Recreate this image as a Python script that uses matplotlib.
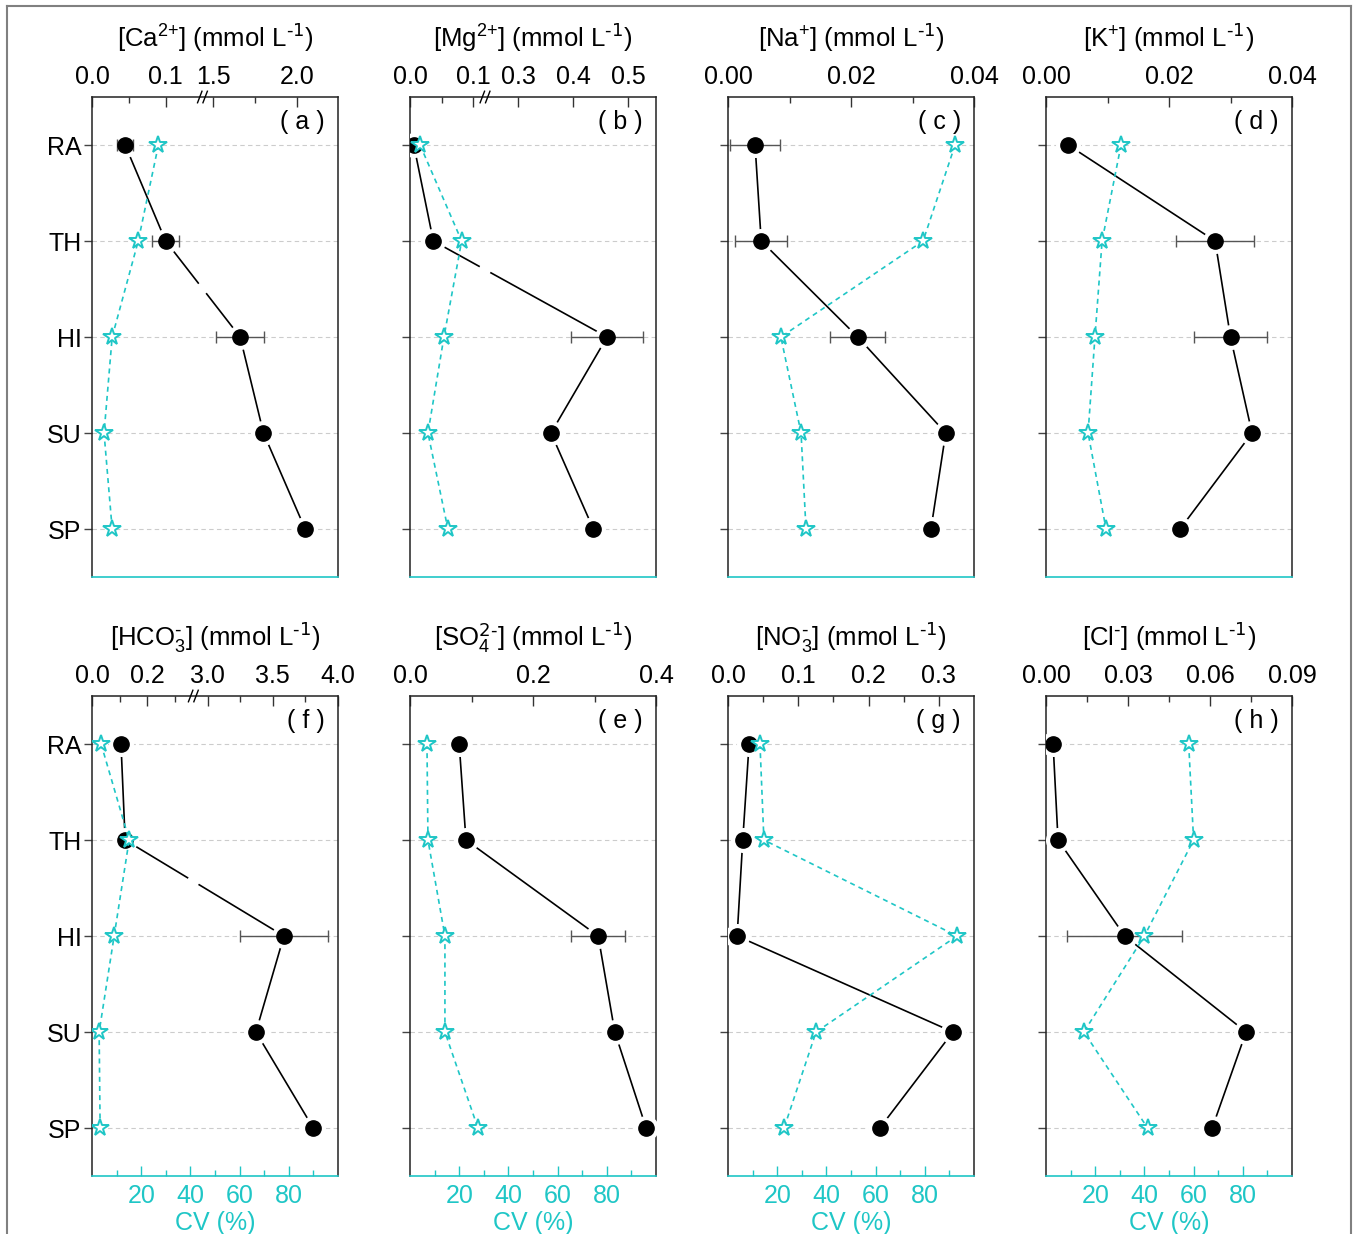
import numpy as np
import matplotlib
matplotlib.use('Agg')
import matplotlib.pyplot as plt
from matplotlib.lines import Line2D
from matplotlib.ticker import FixedLocator, FixedFormatter

plt.rcParams['font.family'] = ['Liberation Sans', 'DejaVu Sans']
plt.rcParams['mathtext.default'] = 'regular'

CYAN = '#1fc6c6'
SITES = ['RA', 'TH', 'HI', 'SU', 'SP']

# Mean concentrations (mmol/L), standard errors and coefficients of variation (%)
ca = [0.045, 0.10, 1.66, 1.80, 2.05]
ca_err = [0.011, 0.018, 0.145, 0.0, 0.0]
ca_cv = [27.0, 18.8, 8.2, 4.9, 8.2]

mg = [0.006, 0.037, 0.462, 0.36, 0.437]
mg_err = [0.0, 0.0, 0.065, 0.0, 0.0]
mg_cv = [4.1, 21.0, 13.8, 7.3, 15.4]

na = [0.0044, 0.0054, 0.0211, 0.0354, 0.033]
na_err = [0.004, 0.0042, 0.0045, 0.0, 0.0]
na_cv = [92.3, 79.3, 21.5, 29.7, 31.7]

k = [0.0036, 0.0275, 0.030, 0.0335, 0.0218]
k_err = [0.0, 0.0063, 0.0059, 0.0, 0.0]
k_cv = [30.5, 22.8, 19.9, 17.1, 24.4]

hco3 = [0.105, 0.12, 3.585, 3.37, 3.81]
hco3_err = [0.0, 0.0, 0.34, 0.0, 0.0]
hco3_cv = [3.7, 15.1, 9.0, 2.9, 3.3]

so4 = [0.08, 0.091, 0.306, 0.333, 0.384]
so4_err = [0.0, 0.0, 0.044, 0.0, 0.0]
so4_cv = [6.9, 7.3, 14.2, 14.2, 27.6]

no3 = [0.030, 0.021, 0.013, 0.32, 0.216]
no3_err = [0.0, 0.0, 0.0, 0.0, 0.0]
no3_cv = [13.0, 14.6, 93.1, 35.8, 22.8]

cl = [0.0026, 0.0044, 0.0288, 0.0732, 0.0608]
cl_err = [0.0, 0.0, 0.021, 0.0, 0.0]
cl_cv = [58.0, 60.0, 40.0, 15.4, 41.3]

cv_ticks = [20, 40, 60, 80]
cv_minor = [10, 30, 50, 70, 90]

UNIT = r' (mmol L$^{\text{-1}}$)'
FS = 18

# panel definitions: values, errors, cv, title, letter, limits, break, major/minor ticks, tick labels
panels = [
    dict(v=ca, e=ca_err, cv=ca_cv, title=r'[Ca$^{2{+}}$]' + UNIT, tag='( a )',
         lim=(0, 2.247), brk=(0.15, 1.434, 0.449),
         major=[0.0, 0.1, 1.5, 2.0], minor=[0.05, 1.75], labels=['0.0', '0.1', '1.5', '2.0']),
    dict(v=mg, e=mg_err, cv=mg_cv, title=r'[Mg$^{2{+}}$]' + UNIT, tag='( b )',
         lim=(0, 0.551), brk=(0.119, 0.24, 0.305),
         major=[0.0, 0.1, 0.3, 0.4, 0.5], minor=[0.05], labels=['0.0', '0.1', '0.3', '0.4', '0.5']),
    dict(v=na, e=na_err, cv=na_cv, title=r'[Na$^{{+}}$]' + UNIT, tag='( c )',
         lim=(0, 0.04), brk=None,
         major=[0.0, 0.02, 0.04], minor=[0.01, 0.03], labels=['0.00', '0.02', '0.04']),
    dict(v=k, e=k_err, cv=k_cv, title=r'[K$^{{+}}$]' + UNIT, tag='( d )',
         lim=(0, 0.04), brk=None,
         major=[0.0, 0.02, 0.04], minor=[0.01, 0.03], labels=['0.00', '0.02', '0.04']),
    dict(v=hco3, e=hco3_err, cv=hco3_cv, title=r'[HCO$_3^{\text{-}}$]' + UNIT, tag='( f )',
         lim=(0, 4.0), brk=(0.367, 2.89, 0.412),
         major=[0.0, 0.2, 3.0, 3.5, 4.0], minor=[0.1, 0.3, 3.25, 3.75],
         labels=['0.0', '0.2', '3.0', '3.5', '4.0']),
    dict(v=so4, e=so4_err, cv=so4_cv, title=r'[SO$_4^{\text{2-}}$]' + UNIT, tag='( e )',
         lim=(0, 0.4), brk=None,
         major=[0.0, 0.2, 0.4], minor=[0.1, 0.3], labels=['0.0', '0.2', '0.4']),
    dict(v=no3, e=no3_err, cv=no3_cv, title=r'[NO$_3^{\text{-}}$]' + UNIT, tag='( g )',
         lim=(0, 0.35), brk=None,
         major=[0.0, 0.1, 0.2, 0.3], minor=[0.05, 0.15, 0.25], labels=['0.0', '0.1', '0.2', '0.3']),
    dict(v=cl, e=cl_err, cv=cl_cv, title=r'[Cl$^{\text{-}}$]' + UNIT, tag='( h )',
         lim=(0, 0.09), brk=None,
         major=[0.0, 0.03, 0.06, 0.09], minor=[0.015, 0.045, 0.075],
         labels=['0.00', '0.03', '0.06', '0.09']),
]

W, H = 1357, 1234
fig = plt.figure(figsize=(W / 100, H / 100), dpi=100)

col_left = [92, 410, 728, 1046]
row_top = [97, 696]
ax_w, ax_h = 246, 480


def broken_scale(lo_end, hi_start, frac, xmax):
    xp = [0.0, lo_end, hi_start, xmax]
    fp = [0.0, frac, frac + 1e-9, 1.0]

    def fwd(x):
        return np.interp(x, xp, fp)

    def inv(y):
        return np.interp(y, fp, xp)
    return fwd, inv


for i, p in enumerate(panels):
    r, c = divmod(i, 4)
    left = col_left[c] / W
    bottom = 1 - (row_top[r] + ax_h) / H
    ax = fig.add_axes([left, bottom, ax_w / W, ax_h / H])
    ax2 = ax.twiny()
    y = np.arange(len(SITES))

    if p['brk'] is not None:
        lo_end, hi_start, frac = p['brk']
        fwd, inv = broken_scale(lo_end, hi_start, frac, p['lim'][1])
        ax.set_xscale('function', functions=(fwd, inv))
    ax.set_xlim(*p['lim'])
    ax.set_ylim(4.5, -0.5)

    # concentration profile with white halo around each point
    ax.plot(p['v'], y, color='black', lw=1.2, zorder=2)
    ax.plot(p['v'], y, 'o', ms=17, color='white', zorder=3)
    ax.errorbar(p['v'], y, xerr=p['e'], fmt='none', ecolor='#555555', elinewidth=1,
                capsize=4, capthick=1, zorder=3.5)
    ax.plot(p['v'], y, 'o', ms=11, color='black', zorder=4)

    # gap in the line where it crosses the axis break
    if p['brk'] is not None:
        to_ax = ax.transAxes.inverted()
        pts = to_ax.transform(ax.transData.transform(np.column_stack([p['v'], y])))
        frac = p['brk'][2]
        for (x0, y0), (x1, y1) in zip(pts[:-1], pts[1:]):
            if (x0 - frac) * (x1 - frac) < 0:
                t = (frac - x0) / (x1 - x0)
                xm, ym = x0 + t * (x1 - x0), y0 + t * (y1 - y0)
                d = np.hypot((x1 - x0) * ax_w, (y1 - y0) * ax_h)
                dt = 6 / d
                ax.plot([xm - dt * (x1 - x0), xm + dt * (x1 - x0)],
                        [ym - dt * (y1 - y0), ym + dt * (y1 - y0)],
                        transform=ax.transAxes, color='white', lw=3, zorder=2.5,
                        solid_capstyle='butt')
        # break marks on the top spine
        for off in (-0.011, 0.011):
            ax.plot([frac + off - 0.009, frac + off + 0.009], [0.988, 1.012],
                    transform=ax.transAxes, color='black', lw=1, clip_on=False, zorder=6)

    ax.xaxis.set_ticks_position('top')
    ax.xaxis.set_label_position('top')
    ax.xaxis.set_major_locator(FixedLocator(p['major']))
    ax.xaxis.set_major_formatter(FixedFormatter(p['labels']))
    ax.xaxis.set_minor_locator(FixedLocator(p['minor']))
    ax.tick_params(axis='x', which='major', direction='in', length=7, width=1,
                   labelsize=FS, pad=6, color='#333333', top=True, bottom=False,
                   labeltop=True, labelbottom=False)
    ax.tick_params(axis='x', which='minor', direction='in', length=4, width=1,
                   color='#333333', top=True, bottom=False)
    ax.set_xlabel(p['title'], fontsize=18.5, labelpad=13)

    ax.set_yticks(y)
    ax.set_yticklabels(SITES if c == 0 else [])
    ax.tick_params(axis='y', direction='out', length=5.5, width=1, color='#444444',
                   labelsize=FS, pad=2)
    ax.grid(axis='y', color='#cccccc', ls=(0, (4, 3)), lw=0.8)
    ax.set_axisbelow(True)

    for side in ('top', 'left', 'right'):
        ax.spines[side].set_color('#222222')
        ax.spines[side].set_linewidth(1.1)
    ax.spines['bottom'].set_visible(False)

    ax.text(0.947, 0.972, p['tag'], transform=ax.transAxes, ha='right', va='top', fontsize=FS)

    # coefficient of variation on the bottom axis
    ax2.set_xlim(0, 100)
    ax2.plot(p['cv'], y, color=CYAN, lw=1.2, ls=(0, (3, 2.5)), zorder=2)
    ax2.plot(p['cv'], y, '*', ms=13, mfc='white', mec=CYAN, mew=1.4, zorder=3)
    ax2.xaxis.set_ticks_position('bottom')
    ax2.xaxis.set_label_position('bottom')
    for side in ('top', 'left', 'right'):
        ax2.spines[side].set_visible(False)
    ax2.spines['bottom'].set_visible(True)
    ax2.spines['bottom'].set_color(CYAN)
    ax2.spines['bottom'].set_linewidth(1.2)
    if r == 1:
        ax2.set_xticks(cv_ticks)
        ax2.set_xticks(cv_minor, minor=True)
        ax2.tick_params(axis='x', which='major', direction='in', length=7, width=1,
                        color=CYAN, labelcolor=CYAN, labelsize=FS, pad=6,
                        top=False, bottom=True, labeltop=False, labelbottom=True)
        ax2.tick_params(axis='x', which='minor', direction='in', length=4, width=1,
                        color=CYAN, top=False, bottom=True)
        ax2.set_xlabel('CV (%)', color=CYAN, fontsize=FS, labelpad=2)
    else:
        ax2.set_xticks([])

# thin frame around the whole figure
x0, x1, ytop = 7 / W, 1351 / W, 1 - 6 / H
for xs, ys in [([x0, x0], [0, ytop]), ([x0, x1], [ytop, ytop]), ([x1, x1], [ytop, 0])]:
    fig.add_artist(Line2D(xs, ys, transform=fig.transFigure, color='#808080', lw=1.5))

fig.savefig('out.png', dpi=100)
